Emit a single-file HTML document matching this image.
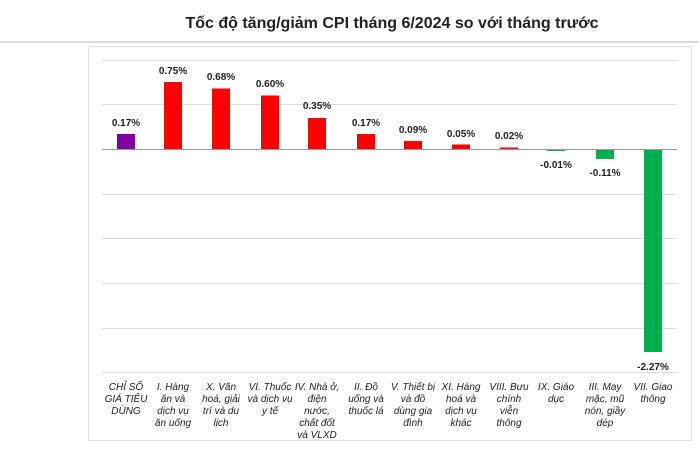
<!DOCTYPE html>
<html><head><meta charset="utf-8"><style>
body{margin:0;background:#fff;}
svg{display:block;font-family:"Liberation Sans",Arial,sans-serif;}
</style></head><body>
<svg width="699" height="452" viewBox="0 0 699 452">
<rect width="699" height="452" fill="#fff"/>
<text x="392" y="28" text-anchor="middle" font-size="16" font-weight="bold" fill="#222">Tốc độ tăng/giảm CPI tháng 6/2024 so với tháng trước</text>
<line x1="0" y1="42" x2="699" y2="42" stroke="#ddd" stroke-width="2"/>
<rect x="88.5" y="46.5" width="603" height="394" fill="none" stroke="#e2e2e2"/>
<g stroke="#dcdcdc" stroke-width="1">
<line x1="102" y1="60.5" x2="677" y2="60.5"/>
<line x1="102" y1="104.5" x2="677" y2="104.5"/>
<line x1="102" y1="194.5" x2="677" y2="194.5"/>
<line x1="102" y1="238.5" x2="677" y2="238.5"/>
<line x1="102" y1="283.5" x2="677" y2="283.5"/>
<line x1="102" y1="328.5" x2="677" y2="328.5"/>
<line x1="102" y1="372.5" x2="677" y2="372.5"/>
</g>
<g>
<rect x="117" y="134" width="18" height="15" fill="#7f00a0"/>
<rect x="164" y="82" width="18" height="67" fill="#f00"/>
<rect x="212" y="88.5" width="18" height="60.5" fill="#f00"/>
<rect x="261" y="95.5" width="18" height="53.5" fill="#f00"/>
<rect x="308" y="118" width="18" height="31" fill="#f00"/>
<rect x="357" y="134" width="18" height="15" fill="#f00"/>
<rect x="404" y="141" width="18" height="8" fill="#f00"/>
<rect x="452" y="144.5" width="18" height="4.5" fill="#f00"/>
<rect x="500" y="147.5" width="18" height="1.5" fill="#f00"/>
<rect x="547" y="149" width="18" height="2" fill="#00b050"/>
<rect x="596" y="149" width="18" height="10" fill="#00b050"/>
<rect x="644" y="149" width="18" height="203" fill="#00b050"/>
</g>
<line x1="102" y1="149.5" x2="677" y2="149.5" stroke="#999" stroke-width="1"/>
<g font-size="10" font-weight="bold" fill="#222" text-anchor="middle">
<text x="126" y="126">0.17%</text>
<text x="173" y="74">0.75%</text>
<text x="221" y="80">0.68%</text>
<text x="270" y="87">0.60%</text>
<text x="317" y="109">0.35%</text>
<text x="366" y="126">0.17%</text>
<text x="413" y="133">0.09%</text>
<text x="461" y="137">0.05%</text>
<text x="509" y="139">0.02%</text>
<text x="556" y="168">-0.01%</text>
<text x="605" y="176">-0.11%</text>
<text x="653" y="370">-2.27%</text>
</g>
<g font-size="10" font-style="italic" fill="#222" text-anchor="middle">
<text x="126" y="390">CHỈ SỐ<tspan x="126" dy="12">GIÁ TIÊU</tspan><tspan x="126" dy="12">DÙNG</tspan></text>
<text x="173" y="390">I. Hàng<tspan x="173" dy="12">ăn và</tspan><tspan x="173" dy="12">dịch vụ</tspan><tspan x="173" dy="12">ăn uống</tspan></text>
<text x="221" y="390">X. Văn<tspan x="221" dy="12">hoá, giải</tspan><tspan x="221" dy="12">trí và du</tspan><tspan x="221" dy="12">lịch</tspan></text>
<text x="270" y="390">VI. Thuốc<tspan x="270" dy="12">và dịch vụ</tspan><tspan x="270" dy="12">y tế</tspan></text>
<text x="317" y="390">IV. Nhà ở,<tspan x="317" dy="12">điện</tspan><tspan x="317" dy="12">nước,</tspan><tspan x="317" dy="12">chất đốt</tspan><tspan x="317" dy="12">và VLXD</tspan></text>
<text x="366" y="390">II. Đồ<tspan x="366" dy="12">uống và</tspan><tspan x="366" dy="12">thuốc lá</tspan></text>
<text x="413" y="390">V. Thiết bị<tspan x="413" dy="12">và đồ</tspan><tspan x="413" dy="12">dùng gia</tspan><tspan x="413" dy="12">đình</tspan></text>
<text x="461" y="390">XI. Hàng<tspan x="461" dy="12">hoá và</tspan><tspan x="461" dy="12">dịch vụ</tspan><tspan x="461" dy="12">khác</tspan></text>
<text x="509" y="390">VIII. Bưu<tspan x="509" dy="12">chính</tspan><tspan x="509" dy="12">viễn</tspan><tspan x="509" dy="12">thông</tspan></text>
<text x="556" y="390">IX. Giáo<tspan x="556" dy="12">dục</tspan></text>
<text x="605" y="390">III. May<tspan x="605" dy="12">mặc, mũ</tspan><tspan x="605" dy="12">nón, giầy</tspan><tspan x="605" dy="12">dép</tspan></text>
<text x="653" y="390">VII. Giao<tspan x="653" dy="12">thông</tspan></text>
</g>
</svg>
</body></html>
